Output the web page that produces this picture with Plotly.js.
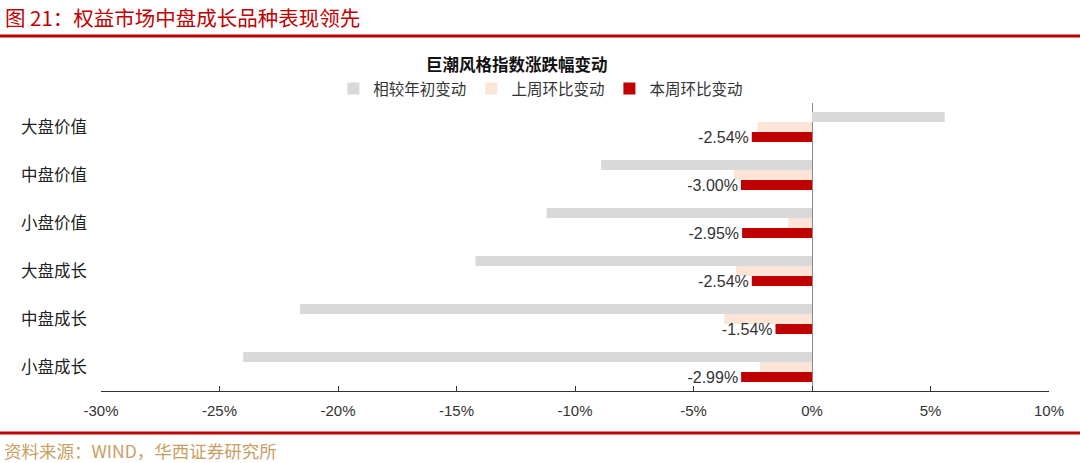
<!DOCTYPE html>
<html>
<head>
<meta charset="utf-8">
<script src="https://cdn.plot.ly/plotly-3.0.1.min.js"></script>
<style>html,body{margin:0;padding:0;background:#fff;}#chart{width:1080px;height:463px;}</style>
</head>
<body>
<div id="chart"></div>
<script>
const categories = ['大盘价值','中盘价值','小盘价值','大盘成长','中盘成长','小盘成长'];
const ytdChange = [5.6, -8.9, -11.2, -14.2, -21.6, -24.0];
const lastWeekChange = [-2.3, -3.3, -1.0, -3.2, -3.7, -2.2];
const thisWeekChange = [-2.54, -3.00, -2.95, -2.54, -1.54, -2.99];
const seriesNames = ['相较年初变动','上周环比变动','本周环比变动'];
const xTicks = [-30,-25,-20,-15,-10,-5,0,5,10];

const CJK = '"Noto Sans CJK SC", "Noto Sans", sans-serif';
const LAT = '"Liberation Sans", Arial, sans-serif';

const traces = [
  {type:'bar', orientation:'h', name:seriesNames[0], y:categories, x:ytdChange,
   marker:{color:'#d9d9d9'}, hoverinfo:'skip'},
  {type:'bar', orientation:'h', name:seriesNames[1], y:categories, x:lastWeekChange,
   marker:{color:'#fbe5d6'}, hoverinfo:'skip'},
  {type:'bar', orientation:'h', name:seriesNames[2], y:categories, x:thisWeekChange,
   marker:{color:'#c00000'}, texttemplate:'%{x:.2f}%', textposition:'outside',
   textfont:{family:LAT, size:16, color:'#333'}, cliponaxis:false, constraintext:'none', hoverinfo:'skip'}
];

const W = 948, H = 288; // plot area in px
const px = v => (v - 101) / W;
const py = v => (391 - v) / H;

const layout = {
  width:1080, height:463,
  margin:{l:101, r:31, t:103, b:72},
  paper_bgcolor:'#fff', plot_bgcolor:'#fff',
  barmode:'group', bargap:0.375, bargroupgap:0,
  showlegend:true,
  legend:{orientation:'h', x:0.464, xanchor:'center', y:py(89), yanchor:'middle',
    font:{family:CJK, size:15.5, color:'#333'}, traceorder:'normal', itemwidth:30},
  xaxis:{range:[-30,10], tickvals:xTicks, ticktext:xTicks.map(v=>v+'%'),
    showgrid:false, zeroline:true, zerolinecolor:'#888', zerolinewidth:1,
    showline:true, linecolor:'#333', linewidth:1, ticks:'inside', ticklen:5, tickcolor:'#333',
    ticklabelstandoff:6,
    tickfont:{family:LAT, size:15, color:'#333'}, fixedrange:true},
  yaxis:{type:'category', categoryorder:'array', categoryarray:categories, autorange:'reversed',
    showgrid:false, zeroline:false, showline:false, ticks:'', ticklabelstandoff:13,
    tickfont:{family:CJK, size:16.5, color:'#222'}, fixedrange:true},
  yaxis2:{overlaying:'y', anchor:'free', position:0.75, side:'right', range:[5.5,-0.5],
    tickvals:[-0.5,0.5,1.5,2.5,3.5,4.5], ticks:'outside', ticklen:5, tickcolor:'#888',
    showticklabels:false, showgrid:false, zeroline:false, showline:false, fixedrange:true},
  shapes:[
    {type:'line', xref:'paper', yref:'paper', x0:px(0), x1:px(1080), y0:py(36), y1:py(36),
     line:{color:'#c00000', width:3}},
    {type:'line', xref:'paper', yref:'paper', x0:px(0), x1:px(1080), y0:py(433), y1:py(433),
     line:{color:'#c00000', width:3}}
  ],
  annotations:[
    {text:'图 21：权益市场中盘成长品种表现领先', xref:'paper', yref:'paper', x:px(3), y:py(17),
     xanchor:'left', yanchor:'middle', showarrow:false,
     font:{family:CJK, size:20.5, color:'#c00000'}},
    {text:'<b>巨潮风格指数涨跌幅变动</b>', xref:'paper', yref:'paper', x:px(517), y:py(64),
     xanchor:'center', yanchor:'middle', showarrow:false,
     font:{family:CJK, size:16.5, color:'#111'}},
    {text:'资料来源：WIND，华西证券研究所', xref:'paper', yref:'paper', x:px(2), y:py(450),
     xanchor:'left', yanchor:'middle', showarrow:false,
     font:{family:CJK, size:17.5, color:'#c8a064'}}
  ]
};

Plotly.newPlot('chart', traces, layout, {displayModeBar:false, staticPlot:true});
</script>
</body>
</html>
